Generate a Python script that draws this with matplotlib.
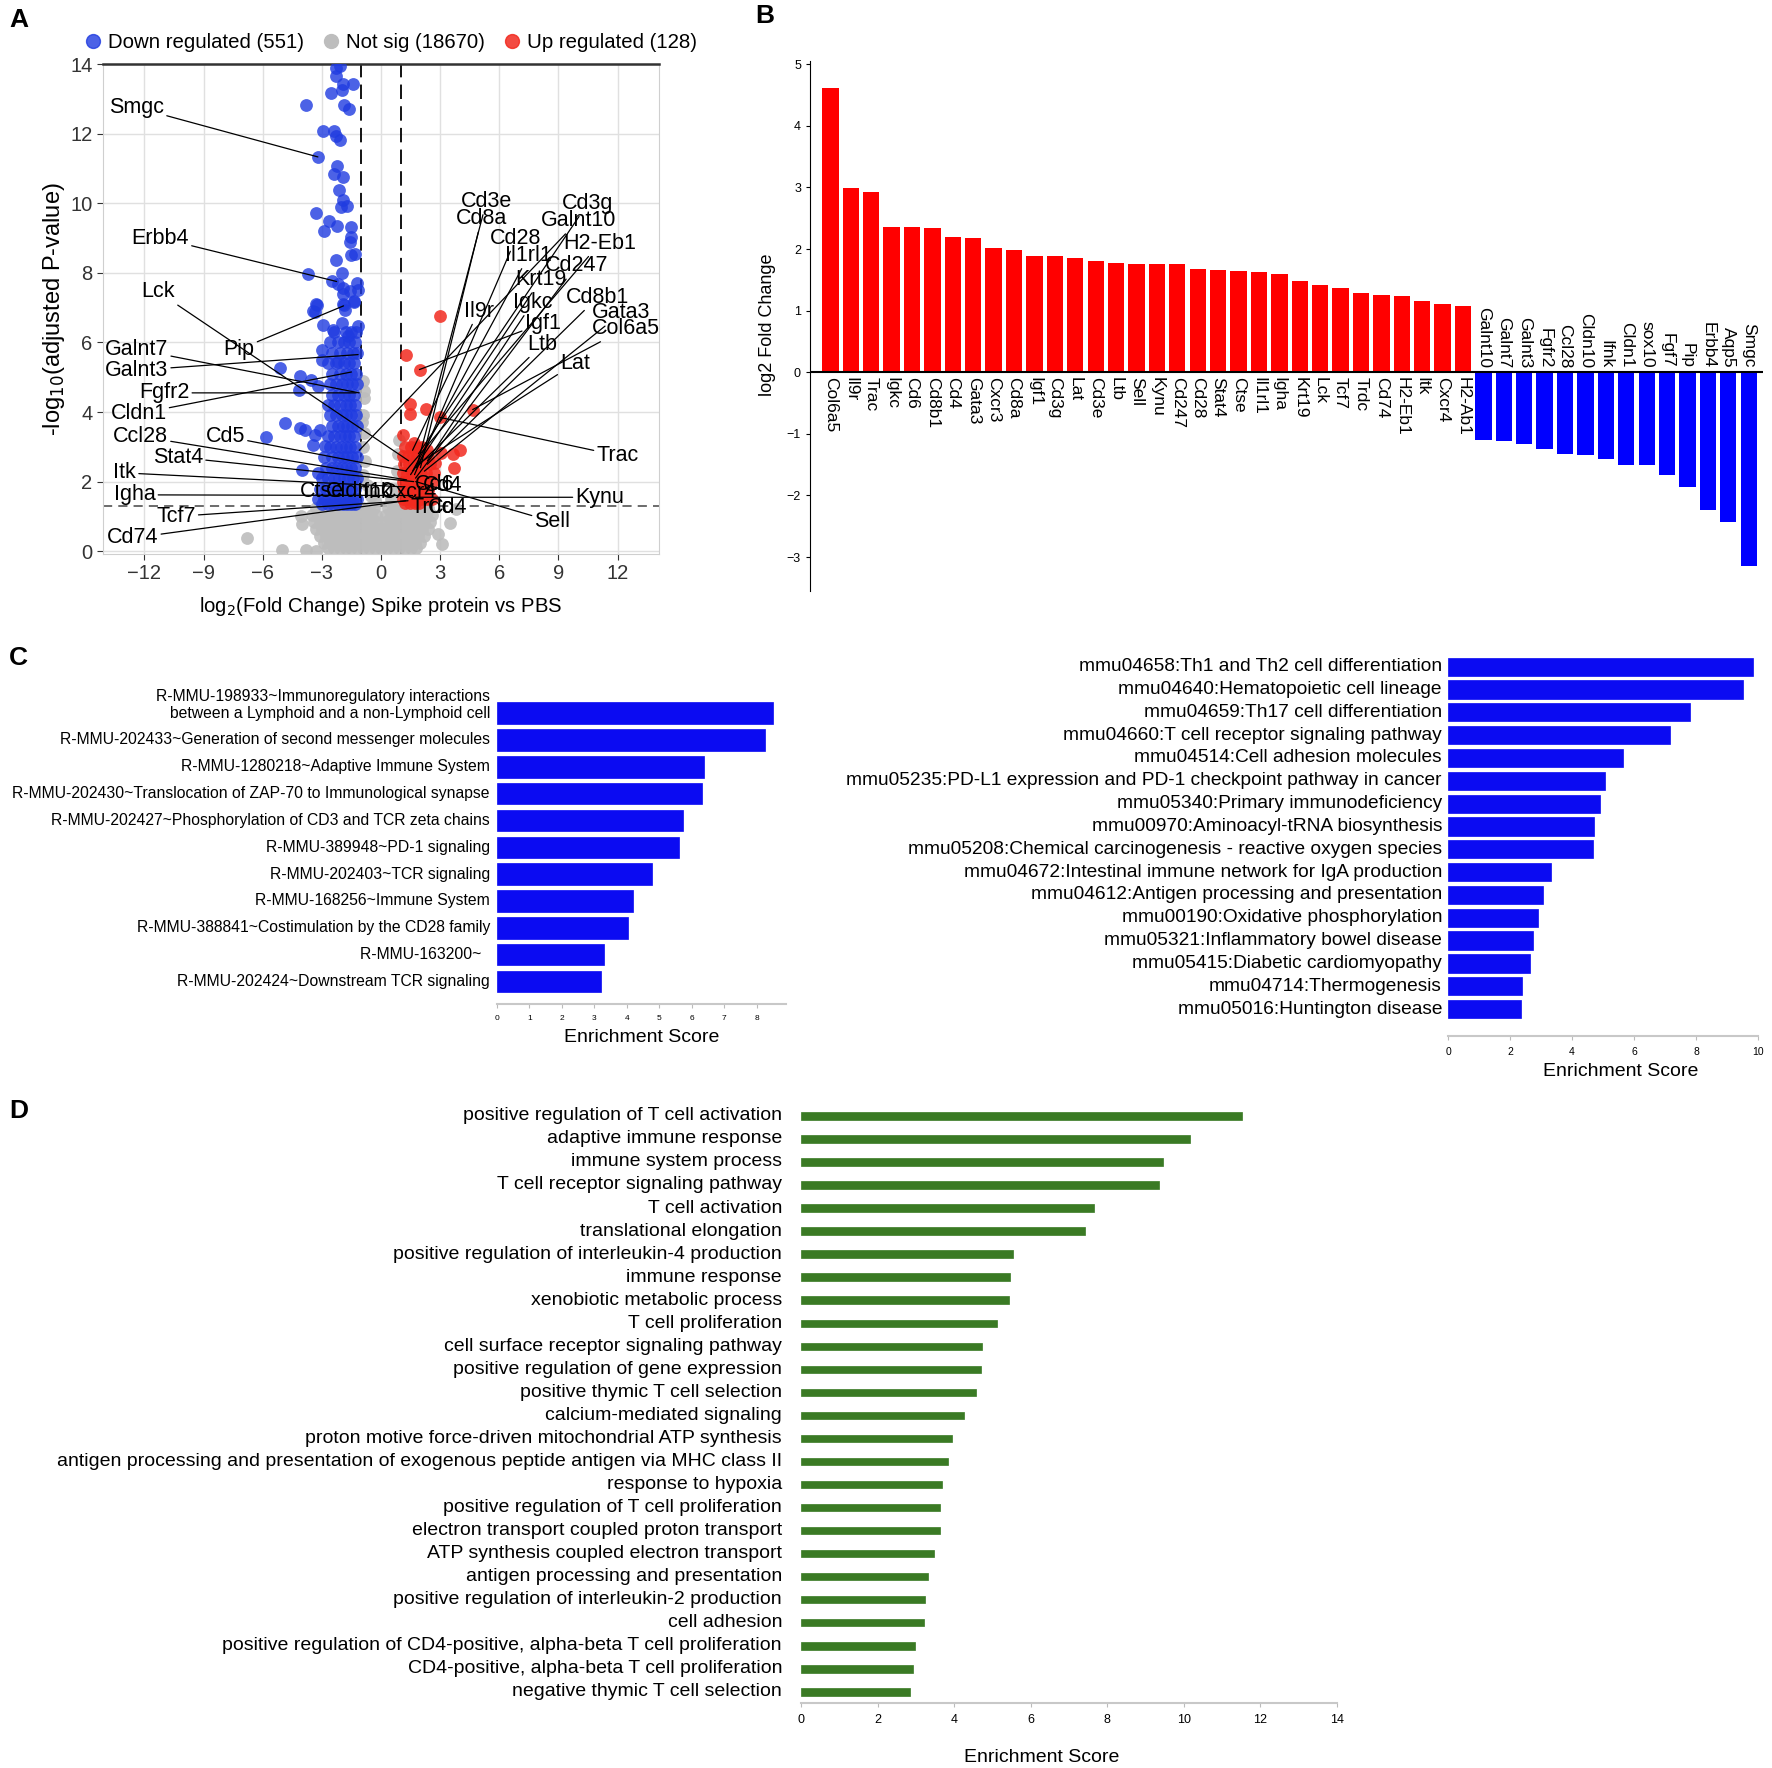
import matplotlib
matplotlib.use('Agg')
from matplotlib import pyplot as plt
from matplotlib.lines import Line2D
import matplotlib.transforms as mtransforms

SANS = ['Liberation Sans', 'DejaVu Sans']
NARROW = ['Liberation Sans Narrow', 'Liberation Sans', 'DejaVu Sans']
plt.rcParams['font.family'] = SANS

# ---------------- panel A: volcano points ----------------
down_pts = [(-2.29, 13.88), (-2.07, 13.93), (-2.29, 13.65), (-1.95, 13.43), (-1.40, 13.43), (-1.99, 13.26),
            (-2.54, 13.16), (-3.78, 12.83), (-1.89, 12.83), (-1.62, 12.71), (-2.92, 12.07), (-2.36, 12.07),
            (-2.29, 11.93), (-2.07, 11.81), (-3.2, 11.33), (-2.24, 11.07), (-2.36, 10.84), (-1.95, 10.74),
            (-2.12, 10.37), (-1.92, 10.08), (-2.04, 9.89), (-1.73, 9.93), (-3.30, 9.71), (-2.66, 9.5),
            (-2.22, 9.34), (-1.53, 9.33), (-2.87, 9.19), (-1.53, 9.02), (-1.57, 8.88), (-1.52, 8.52),
            (-1.31, 8.54), (-2.29, 8.38), (-3.7, 7.98), (-1.99, 8.0), (-2.49, 7.76), (-2.16, 7.67),
            (-1.95, 7.57), (-1.23, 7.7), (-1.57, 7.48), (-1.91, 7.4), (-1.15, 7.52), (-1.35, 7.2),
            (-3.3, 7.1), (-1.91, 7.1), (-3.43, 6.91), (-1.82, 6.93),
            (-3.27, 7.08), (-3.35, 6.86), (-1.9, 7.08), (-1.35, 7.15), (-2.92, 6.5), (-2.41, 6.36),
            (-1.99, 6.55), (-1.15, 6.46), (-1.65, 6.17), (-2.97, 5.79), (-2.97, 5.5), (-2.16, 5.45),
            (-5.13, 5.26), (-4.1, 5.04), (-3.54, 4.92), (-3.17, 4.75), (-4.18, 4.64), (-4.89, 3.68),
            (-4.1, 3.53), (-3.88, 3.49), (-3.09, 3.49), (-3.34, 3.34), (-5.82, 3.27), (-3.46, 3.04),
            (-2.83, 3.01), (-4.0, 2.34), (-3.17, 2.24)]
down_rows = [(6.3, [-2.4, -1.8, -1.5, -1.25]),
             (6.0, [-2.6, -2.2, -1.9, -1.6, -1.3]),
             (5.7, [-2.5, -2.1, -1.7, -1.4, -1.2]),
             (5.4, [-2.7, -2.3, -1.9, -1.6, -1.35]),
             (5.1, [-2.5, -2.1, -1.8, -1.5, -1.25]),
             (4.8, [-2.6, -2.3, -2.0, -1.7, -1.45, -1.22]),
             (4.5, [-2.5, -2.2, -1.9, -1.6, -1.35]),
             (4.2, [-2.7, -2.4, -2.1, -1.8, -1.55, -1.3]),
             (3.9, [-2.6, -2.3, -2.0, -1.75, -1.5, -1.25]),
             (3.6, [-2.5, -2.2, -1.95, -1.7, -1.45, -1.22]),
             (3.3, [-2.7, -2.4, -2.1, -1.85, -1.6, -1.35]),
             (3.0, [-2.6, -2.3, -2.05, -1.8, -1.55, -1.3]),
             (2.7, [-2.9, -2.5, -2.2, -1.95, -1.7, -1.45, -1.22]),
             (2.4, [-2.8, -2.5, -2.25, -2.0, -1.75, -1.5, -1.3]),
             (2.1, [-3.0, -2.7, -2.4, -2.15, -1.9, -1.65, -1.4, -1.2]),
             (1.8, [-3.1, -2.8, -2.5, -2.25, -2.0, -1.75, -1.5, -1.3]),
             (1.5, [-3.2, -2.9, -2.6, -2.35, -2.1, -1.85, -1.6, -1.4, -1.2]),
             (1.35, [-3.0, -2.7, -2.45, -2.2, -1.95, -1.7, -1.5, -1.3])]

up_pts = [(3.01, 6.77), (1.28, 5.65), (2.0, 5.22), (1.45, 4.23), (1.45, 3.94), (2.28, 4.08), (4.65, 4.07),
          (3.01, 3.85), (1.11, 3.35), (1.65, 3.1), (1.91, 2.97), (2.33, 2.92), (3.05, 2.82), (3.66, 2.8),
          (4.03, 2.92), (2.76, 2.53), (3.69, 2.39)]
up_rows = [(3.0, [1.2, 1.5, 1.8, 2.1]),
           (2.75, [1.1, 1.35, 1.6, 1.85, 2.1, 2.4]),
           (2.5, [1.15, 1.4, 1.65, 1.9, 2.15, 2.5]),
           (2.25, [1.1, 1.3, 1.55, 1.8, 2.05, 2.3, 2.7]),
           (2.0, [1.1, 1.3, 1.5, 1.75, 2.0, 2.25, 2.6]),
           (1.75, [1.15, 1.35, 1.6, 1.85, 2.1, 2.4]),
           (1.5, [1.1, 1.3, 1.55, 1.8, 2.05, 2.35, 2.6]),
           (1.38, [1.2, 1.45, 1.7, 1.95])]

ns_pts = [(-0.9, 4.9), (-0.85, 4.4), (-0.9, 3.9), (-0.85, 3.4), (-0.9, 3.0), (-0.8, 2.6), (-0.9, 2.2),
          (-0.7, 1.9), (-0.5, 1.6), (-0.3, 1.45), (0.5, 1.5), (0.7, 1.8), (0.8, 2.3), (0.85, 2.8),
          (0.9, 3.2), (-0.85, 4.6), (-0.95, 3.7), (-6.8, 0.37), (-4.0, 0.77), (-4.05, 1.0), (-5.0, 0.03),
          (-3.8, 0.03), (-3.3, 0.02), (3.5, 0.8), (3.8, 1.22), (2.9, 0.5), (3.1, 0.2)]
ns_rows = [(1.25, [-3.3, -3.0, -2.7, -2.4, -2.1, -1.8, -1.5, -1.2, -0.9, -0.6, -0.35, 0.35, 0.6, 0.9, 1.2, 1.5, 1.8, 2.1, 2.4]),
           (1.05, [-3.5, -3.2, -2.9, -2.6, -2.3, -2.0, -1.7, -1.4, -1.1, -0.8, -0.5, -0.25, 0.25, 0.5, 0.8, 1.1, 1.4, 1.7, 2.0, 2.3, 2.6]),
           (0.85, [-3.4, -3.1, -2.8, -2.5, -2.2, -1.9, -1.6, -1.3, -1.0, -0.7, -0.45, -0.2, 0.2, 0.45, 0.7, 1.0, 1.3, 1.6, 1.9, 2.2, 2.5]),
           (0.65, [-3.3, -3.0, -2.7, -2.4, -2.1, -1.8, -1.5, -1.2, -0.9, -0.6, -0.35, -0.15, 0.15, 0.35, 0.6, 0.9, 1.2, 1.5, 1.8, 2.1, 2.4]),
           (0.45, [-3.1, -2.8, -2.5, -2.2, -1.9, -1.6, -1.3, -1.0, -0.7, -0.45, -0.2, 0.0, 0.2, 0.45, 0.7, 1.0, 1.3, 1.6, 1.9, 2.2]),
           (0.25, [-2.9, -2.6, -2.3, -2.0, -1.7, -1.4, -1.1, -0.8, -0.5, -0.25, 0.0, 0.25, 0.5, 0.8, 1.1, 1.4, 1.7, 2.0]),
           (0.08, [-2.7, -2.4, -2.1, -1.8, -1.5, -1.2, -0.9, -0.6, -0.3, 0.0, 0.3, 0.6, 0.9, 1.2, 1.5, 1.8])]

# gene label: (name, text x, text y, point x, point y)
volcano_labels = [('Smgc', -12.4, 12.75, -3.2, 11.33), ('Erbb4', -11.2, 9.0, -2.25, 7.75),
                  ('Lck', -11.3, 7.45, 1.4, 2.6), ('Pip', -7.2, 5.8, -1.9, 7.05),
                  ('Galnt7', -12.4, 5.8, -1.11, 4.55), ('Galnt3', -12.4, 5.2, -1.16, 5.65),
                  ('Fgfr2', -11.0, 4.55, -1.26, 4.55), ('Cldn1', -12.3, 3.95, -1.5, 5.15),
                  ('Ccl28', -12.2, 3.3, 1.3, 2.05), ('Cd5', -7.9, 3.3, 1.3, 2.3),
                  ('Stat4', -10.3, 2.7, 1.66, 2.0), ('Itk', -13.0, 2.25, 1.15, 1.85),
                  ('Igha', -12.5, 1.62, 1.6, 1.6), ('Tcf7', -10.4, 1.0, 1.37, 1.45),
                  ('Cd74', -12.6, 0.38, 1.25, 1.45),
                  ('Cd3e', 5.35, 10.05, 1.8, 2.4), ('Cd8a', 5.1, 9.55, 2.0, 2.4),
                  ('Cd28', 6.85, 9.0, 1.7, 2.2), ('Il1rl1', 7.5, 8.5, 1.6, 2.3),
                  ('Krt19', 8.1, 7.8, 1.5, 2.2), ('Igkc', 7.7, 7.15, 2.36, 2.6),
                  ('Igf1', 8.2, 6.55, 1.95, 5.22), ('Ltb', 8.2, 5.95, 1.78, 2.4),
                  ('Lat', 9.85, 5.4, 1.85, 2.5), ('Il9r', 4.95, 6.9, 1.6, 2.9),
                  ('Cd3g', 10.5, 10.0, 1.9, 2.8), ('Galnt10', 10.0, 9.5, -1.1, 2.9),
                  ('H2-Eb1', 11.1, 8.85, 1.24, 2.3), ('Cd247', 9.9, 8.2, 1.75, 2.1),
                  ('Cd8b1', 11.0, 7.3, 2.35, 2.5), ('Gata3', 12.2, 6.85, 2.2, 2.3),
                  ('Col6a5', 12.4, 6.4, 4.65, 4.07), ('Trac', 12.0, 2.75, 2.95, 3.85),
                  ('Kynu', 11.1, 1.55, 1.75, 1.55), ('Sell', 8.7, 0.85, 1.76, 2.0)]
# labels piled up in the middle of the cloud (no leader line)
pile_names = ['Ctse', 'Cldn10', 'Ifnk', 'Cxcr4', 'Cd6', 'Cd4', 'Trdc', 'Cd4']
pile_x = [-4.1, -2.8, -1.2, 0.0, 1.7, 2.1, 1.5, 2.4]
pile_y = [1.72, 1.72, 1.7, 1.68, 1.92, 1.9, 1.27, 1.27]

# ---------------- panel B ----------------
b_genes = ['Col6a5', 'Il9r', 'Trac', 'Igkc', 'Cd6', 'Cd8b1', 'Cd4', 'Gata3', 'Cxcr3', 'Cd8a', 'Igf1',
           'Cd3g', 'Lat', 'Cd3e', 'Ltb', 'Sell', 'Kynu', 'Cd247', 'Cd28', 'Stat4', 'Ctse', 'Il1rl1',
           'Igha', 'Krt19', 'Lck', 'Tcf7', 'Trdc', 'Cd74', 'H2-Eb1', 'Itk', 'Cxcr4', 'H2-Ab1',
           'Galnt10', 'Galnt7', 'Galnt3', 'Fgfr2', 'Ccl28', 'Cldn10', 'Ifnk', 'Cldn1', 'sox10', 'Fgf7',
           'Pip', 'Erbb4', 'Aqp5', 'Smgc']
b_lfc = [4.61, 2.99, 2.93, 2.36, 2.36, 2.34, 2.2, 2.18, 2.01, 1.99, 1.89, 1.89, 1.85, 1.81, 1.78, 1.76,
         1.75, 1.75, 1.68, 1.66, 1.64, 1.62, 1.59, 1.48, 1.42, 1.37, 1.28, 1.25, 1.24, 1.15, 1.11, 1.08,
         -1.10, -1.11, -1.16, -1.25, -1.32, -1.34, -1.41, -1.50, -1.50, -1.66, -1.86, -2.23, -2.43, -3.14]

# ---------------- panel C ----------------
reactome_terms = ['R-MMU-198933~Immunoregulatory interactions\nbetween a Lymphoid and a non-Lymphoid cell',
                  'R-MMU-202433~Generation of second messenger molecules',
                  'R-MMU-1280218~Adaptive Immune System',
                  'R-MMU-202430~Translocation of ZAP-70 to Immunological synapse',
                  'R-MMU-202427~Phosphorylation of CD3 and TCR zeta chains',
                  'R-MMU-389948~PD-1 signaling',
                  'R-MMU-202403~TCR signaling',
                  'R-MMU-168256~Immune System',
                  'R-MMU-388841~Costimulation by the CD28 family',
                  'R-MMU-163200~  ',
                  'R-MMU-202424~Downstream TCR signaling']
reactome_scores = [8.5, 8.26, 6.36, 6.31, 5.73, 5.59, 4.76, 4.18, 4.02, 3.28, 3.2]

kegg_terms = ['mmu04658:Th1 and Th2 cell differentiation', 'mmu04640:Hematopoietic cell lineage',
              'mmu04659:Th17 cell differentiation', 'mmu04660:T cell receptor signaling pathway',
              'mmu04514:Cell adhesion molecules',
              'mmu05235:PD-L1 expression and PD-1 checkpoint pathway in cancer',
              'mmu05340:Primary immunodeficiency', 'mmu00970:Aminoacyl-tRNA biosynthesis',
              'mmu05208:Chemical carcinogenesis - reactive oxygen species',
              'mmu04672:Intestinal immune network for IgA production',
              'mmu04612:Antigen processing and presentation', 'mmu00190:Oxidative phosphorylation',
              'mmu05321:Inflammatory bowel disease', 'mmu05415:Diabetic cardiomyopathy',
              'mmu04714:Thermogenesis', 'mmu05016:Huntington disease']
kegg_scores = [9.84, 9.52, 7.8, 7.17, 5.63, 5.05, 4.91, 4.71, 4.67, 3.33, 3.07, 2.91, 2.73, 2.63, 2.38, 2.34]

# ---------------- panel D ----------------
go_terms = ['positive regulation of T cell activation', 'adaptive immune response', 'immune system process',
            'T cell receptor signaling pathway', 'T cell activation', 'translational elongation',
            'positive regulation of interleukin-4 production', 'immune response',
            'xenobiotic metabolic process', 'T cell proliferation', 'cell surface receptor signaling pathway',
            'positive regulation of gene expression', 'positive thymic T cell selection',
            'calcium-mediated signaling', 'proton motive force-driven mitochondrial ATP synthesis',
            'antigen processing and presentation of exogenous peptide antigen via MHC class II',
            'response to hypoxia', 'positive regulation of T cell proliferation',
            'electron transport coupled proton transport', 'ATP synthesis coupled electron transport',
            'antigen processing and presentation', 'positive regulation of interleukin-2 production',
            'cell adhesion', 'positive regulation of CD4-positive, alpha-beta T cell proliferation',
            'CD4-positive, alpha-beta T cell proliferation', 'negative thymic T cell selection']
go_scores = [11.53, 10.17, 9.45, 9.36, 7.65, 7.42, 5.53, 5.46, 5.44, 5.13, 4.74, 4.71, 4.57, 4.27, 3.94,
             3.85, 3.69, 3.64, 3.62, 3.48, 3.31, 3.24, 3.22, 2.99, 2.92, 2.85]

W, H = 1772, 1768
fig = plt.figure(figsize=(W / 100, H / 100), dpi=100)


def rect(left, top, right, bottom):
    return [left / W, 1 - bottom / H, (right - left) / W, (bottom - top) / H]


def unpack(pts, rows):
    xs = [p[0] for p in pts]
    ys = [p[1] for p in pts]
    for yv, row in rows:
        xs += row
        ys += [yv] * len(row)
    return xs, ys


# ================= A =================
ax = fig.add_axes(rect(103, 64, 659, 554))
ax.set_xlim(-14.1, 14.1)
ax.set_ylim(-0.08, 14.0)
ax.set_xticks(range(-12, 13, 3))
ax.set_yticks(range(0, 15, 2))
ax.grid(True, color='#e0e0e0', lw=1.0)
ax.set_axisbelow(True)
for s in ['left', 'right', 'bottom']:
    ax.spines[s].set_color('#cfcfcf')
ax.spines['top'].set_color('#333333')
ax.spines['top'].set_linewidth(1.8)
ax.tick_params(labelsize=14.5, colors='#333333', length=4)
ax.axvline(-1, color='black', ls=(0, (8, 4)), lw=1.3, zorder=1)
ax.axvline(1, color='black', ls=(0, (8, 4)), lw=1.3, zorder=1)
ax.axhline(1.3, color='#444444', ls=(0, (6, 4)), lw=1.1, zorder=1)

gx, gy = unpack(ns_pts, ns_rows)
ax.scatter(gx, gy, s=85, color='#bdbdbd', alpha=0.9, lw=0, zorder=2)
dx, dy = unpack(down_pts, down_rows)
ax.scatter(dx, dy, s=85, color='#1f3be0', alpha=0.8, lw=0, zorder=3)
ux, uy = unpack(up_pts, up_rows)
ax.scatter(ux, uy, s=85, color='#f22a1f', alpha=0.85, lw=0, zorder=3)

for name, tx, ty, px, py in volcano_labels:
    ax.annotate(name, xy=(px, py), xytext=(tx, ty), fontsize=15.5, ha='center', va='center', zorder=5,
                arrowprops=dict(arrowstyle='-', color='black', lw=0.9, shrinkA=0, shrinkB=0))
for name, px, py in zip(pile_names, pile_x, pile_y):
    ax.text(px, py, name, fontsize=15.5, ha='left', va='center', zorder=5)

ax.set_xlabel('log$_2$(Fold Change) Spike protein vs PBS', fontsize=14.6, labelpad=8)
ax.set_ylabel('-log$_{10}$(adjusted P-value)', fontsize=17, labelpad=2)
handles = [Line2D([], [], marker='o', ls='', color='#1f3be0', alpha=0.8, markersize=10),
           Line2D([], [], marker='o', ls='', color='#bdbdbd', markersize=10),
           Line2D([], [], marker='o', ls='', color='#f22a1f', alpha=0.85, markersize=10)]
ax.legend(handles, ['Down regulated (551)', 'Not sig (18670)', 'Up regulated (128)'],
          loc='lower center', bbox_to_anchor=(0.514, 1.0), ncol=3, frameon=False, fontsize=14.7,
          handletextpad=0.15, handlelength=1.2, columnspacing=0.7, borderaxespad=0.2)

# ================= B =================
bx = fig.add_axes(rect(810, 58, 1763, 591))
pos = list(range(len(b_genes)))
cols = ['#ff0000' if v > 0 else '#0000ff' for v in b_lfc]
bx.bar(pos, b_lfc, width=0.8, color=cols)
bx.set_xlim(-1.0, 45.7)
bx.set_ylim(-3.55, 5.1)
bx.axhline(0, color='black', lw=1.5)
for i, (g, v) in enumerate(zip(b_genes, b_lfc)):
    if v > 0:
        bx.text(i, -0.07, g, rotation=-90, ha='center', va='top', fontsize=12.5)
    else:
        bx.text(i, 0.07, g, rotation=-90, ha='center', va='bottom', fontsize=12.5)
for s in ['top', 'right', 'bottom']:
    bx.spines[s].set_visible(False)
bx.spines['left'].set_bounds(-3.55, 5.05)
bx.set_xticks([])
bx.set_yticks(range(-3, 6))
bx.tick_params(axis='y', labelsize=9, length=3)
bx.set_ylabel('log2 Fold Change', fontsize=13, labelpad=8)


# ================= C and D =================
def hbar(r, terms, scores, color, height, xmax, ticks, tick_fs, label_fs, pad_px, ylim):
    a = fig.add_axes(r)
    y = list(range(len(terms)))
    a.barh(y, scores, height=height, color=color, edgecolor=color, lw=0.5)
    a.set_ylim(*ylim)
    a.set_xlim(0, xmax)
    a.set_yticks([])
    a.set_xticks(ticks)
    a.tick_params(axis='x', labelsize=tick_fs, length=3, color='#bbbbbb', pad=5)
    for lab in a.get_xticklabels():
        lab.set_family(NARROW)
    for s in ['top', 'right', 'left']:
        a.spines[s].set_visible(False)
    a.spines['bottom'].set_color('#c8c8c8')
    a.spines['bottom'].set_linewidth(1.5)
    tr = mtransforms.offset_copy(a.get_yaxis_transform(), fig=fig, x=-pad_px, y=0, units='dots')
    for i, t in enumerate(terms):
        yy = i - 0.3 if '\n' in t else i
        a.text(0, yy, t, transform=tr, ha='right', va='center', fontsize=label_fs,
               family=NARROW, linespacing=1.1)
    return a


hbar(rect(497, 697, 786, 1004), reactome_terms, reactome_scores, '#0b0bf2', 0.8, 8.9,
     range(0, 9), 6, 11.3, 7, (10.84, -0.6))
fig.text(642 / W, 1 - 1037 / H, 'Enrichment Score', ha='center', va='center', fontsize=14, family=NARROW)

hbar(rect(1448, 653, 1758, 1036), kegg_terms, kegg_scores, '#0b0bf2', 0.8, 10.0,
     range(0, 11, 2), 7.5, 13.8, 6, (16.18, -0.6))
fig.text(1621 / W, 1 - 1071 / H, 'Enrichment Score', ha='center', va='center', fontsize=14, family=NARROW)

hbar(rect(801, 1102, 1337, 1703), go_terms, go_scores, '#3a7a24', 0.32, 14.0,
     range(0, 15, 2), 9, 14, 19, (25.48, -0.6))
fig.text(1042 / W, 1 - 1757 / H, 'Enrichment Score', ha='center', va='center', fontsize=14, family=NARROW)

# panel letters
for letter, px, py in [('A', 9, 20), ('B', 755, 16), ('C', 9, 658), ('D', 9, 1111)]:
    fig.text(px / W, 1 - py / H, letter, fontsize=19, fontweight='bold', ha='left', va='center')

fig.savefig('out.png', dpi=100)
print('Complete')
